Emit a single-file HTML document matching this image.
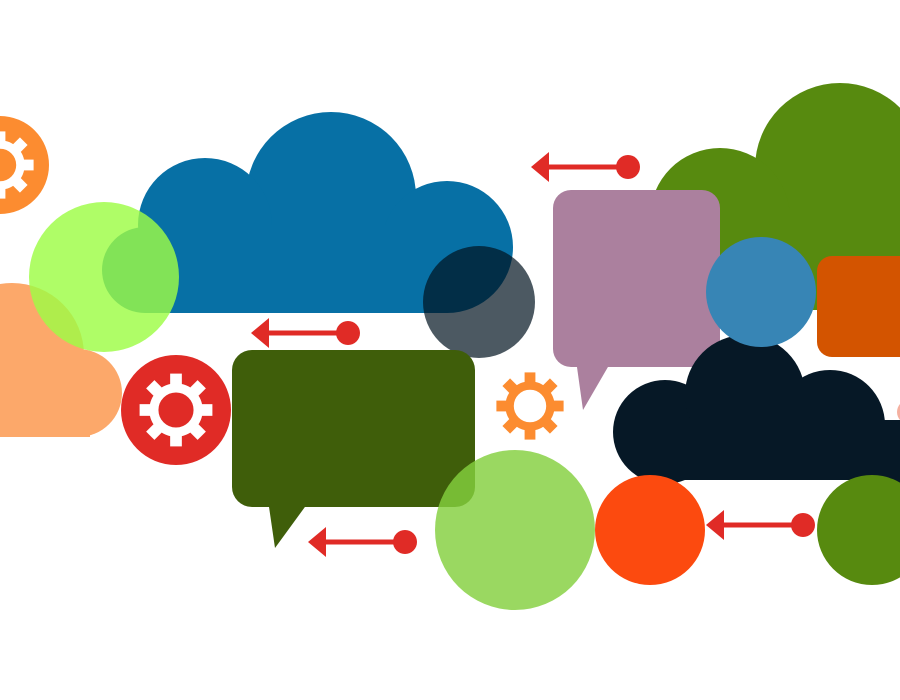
<!DOCTYPE html>
<html><head><meta charset="utf-8"><style>html,body{margin:0;padding:0;background:#fff}svg{display:block}</style></head>
<body>
<svg width="900" height="700" viewBox="0 0 900 700" xmlns="http://www.w3.org/2000/svg">
<defs>
<g id="gear">
  <circle r="17" fill="none" stroke-width="7"/>
  <g stroke="none">
    <rect x="-4.5" y="-28" width="9" height="9"/>
    <rect x="-4.5" y="19" width="9" height="9"/>
    <rect x="-28" y="-4.5" width="9" height="9"/>
    <rect x="19" y="-4.5" width="9" height="9"/>
    <rect x="-4.5" y="-28" width="9" height="9" transform="rotate(45)"/>
    <rect x="-4.5" y="-28" width="9" height="9" transform="rotate(135)"/>
    <rect x="-4.5" y="-28" width="9" height="9" transform="rotate(225)"/>
    <rect x="-4.5" y="-28" width="9" height="9" transform="rotate(315)"/>
  </g>
</g>
</defs>

<circle cx="0" cy="165" r="49" fill="#fc8c30"/>
<g transform="translate(0,165) scale(1.2)" fill="#fff" stroke="#fff"><use href="#gear"/></g>

<g fill="#0770a5">
  <circle cx="331" cy="197" r="85"/>
  <circle cx="205" cy="225" r="67"/>
  <circle cx="447" cy="247" r="66"/>
  <circle cx="145" cy="270" r="43"/>
  <rect x="145" y="225" width="302" height="88"/>
</g>

<g fill="#fca86a">
  <circle cx="12" cy="355" r="72"/>
  <circle cx="78" cy="393" r="44"/>
  <rect x="0" y="355" width="90" height="82"/>
</g>

<circle cx="104" cy="277" r="75" fill="#9dfc45" opacity="0.82"/>

<circle cx="176" cy="410" r="55" fill="#e02b26"/>
<g transform="translate(176,410) scale(1.3)" fill="#fff" stroke="#fff"><use href="#gear"/></g>

<circle cx="479" cy="302" r="56" fill="#00121f" opacity="0.7"/>

<g fill="#3f5e0a">
  <rect x="232" y="350" width="243" height="157" rx="20"/>
  <path d="M268 500 L275 548 L310 500 Z"/>
</g>

<g fill="#578a0f">
  <circle cx="840" cy="168" r="85"/>
  <circle cx="720" cy="218" r="70"/>
  <rect x="650" y="210" width="250" height="100"/>
</g>

<g fill="#ab809e">
  <rect x="553" y="190" width="167" height="177" rx="18"/>
  <path d="M576 360 L583 410 L612 360 Z"/>
</g>

<rect x="817" y="256" width="110" height="101" rx="15" fill="#d35400"/>

<g fill="#061826">
  <circle cx="665" cy="432" r="52"/>
  <circle cx="745" cy="395" r="60"/>
  <circle cx="830" cy="425" r="55"/>
  <circle cx="900" cy="460" r="40"/>
  <rect x="640" y="420" width="260" height="60"/>
</g>
<circle cx="909" cy="412" r="12" fill="#f5b0a0"/>

<circle cx="761" cy="292" r="55" fill="#3785b5"/>

<g transform="translate(530,406) scale(1.2)" fill="#fc8c30" stroke="#fc8c30"><use href="#gear"/></g>

<circle cx="515" cy="530" r="80" fill="#84d03e" opacity="0.82"/>

<circle cx="650" cy="530" r="55" fill="#fc4a0f"/>
<circle cx="872" cy="530" r="55" fill="#578a0f"/>

<g fill="#e02b26" stroke="#e02b26">
  <line x1="265" y1="333" x2="348" y2="333" stroke-width="5"/>
  <circle cx="348" cy="333" r="12" stroke="none"/>
  <path d="M251 333 L269 318 L269 348 Z" stroke="none"/>

  <line x1="545" y1="167" x2="628" y2="167" stroke-width="5"/>
  <circle cx="628" cy="167" r="12" stroke="none"/>
  <path d="M531 167 L549 152 L549 182 Z" stroke="none"/>

  <line x1="322" y1="542" x2="405" y2="542" stroke-width="5"/>
  <circle cx="405" cy="542" r="12" stroke="none"/>
  <path d="M308 542 L326 527 L326 557 Z" stroke="none"/>

  <line x1="720" y1="525" x2="803" y2="525" stroke-width="5"/>
  <circle cx="803" cy="525" r="12" stroke="none"/>
  <path d="M706 525 L724 510 L724 540 Z" stroke="none"/>
</g>
</svg>
</body></html>
